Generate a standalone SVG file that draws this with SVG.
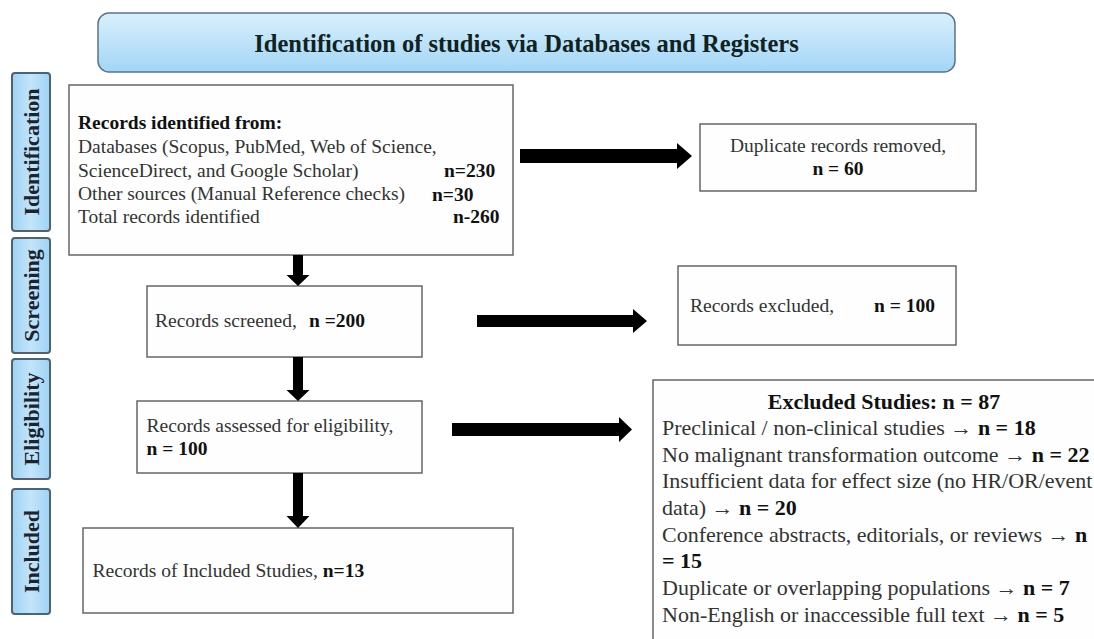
<svg xmlns="http://www.w3.org/2000/svg" width="1094" height="639" viewBox="0 0 1094 639">
<defs>
<linearGradient id="gBar" x1="0" y1="0" x2="0" y2="1">
<stop offset="0" stop-color="#d9f0fd"/>
<stop offset="1" stop-color="#a3d5f5"/>
</linearGradient>
<linearGradient id="gTab" x1="0" y1="0" x2="1" y2="0">
<stop offset="0" stop-color="#9fd2f3"/>
<stop offset="0.5" stop-color="#c2e5fb"/>
<stop offset="1" stop-color="#9fd2f3"/>
</linearGradient>
<style>
.box{fill:#fefefe;stroke:#666;stroke-width:1.5}
.tab{fill:url(#gTab);stroke:#4f6272;stroke-width:2}
.t{font-family:"Liberation Serif","Times New Roman",serif;font-size:19.5px;fill:#333}
.tl{font-family:"Liberation Serif","Times New Roman",serif;font-size:22px;fill:#333}
.b{font-weight:bold;fill:#111}
.ttl{font-family:"Liberation Serif","Times New Roman",serif;font-size:24.5px;font-weight:bold;fill:#122}
.tabt{font-family:"Liberation Serif","Times New Roman",serif;font-size:22px;font-weight:bold;fill:#1b2430}
.arr{fill:#000}
</style>
</defs>
<rect width="1094" height="639" fill="#ffffff"/>

<g id="header">
<rect x="98" y="13" width="857" height="59" rx="11" fill="url(#gBar)" stroke="#5b7486" stroke-width="1.5"/>
<text class="ttl" x="526.5" y="52" text-anchor="middle">Identification of studies via Databases and Registers</text>
</g>

<g id="tab-identification">
<rect class="tab" x="12" y="73" width="38" height="158" rx="3"/>
<text class="tabt" transform="translate(31,152) rotate(-90)" x="0" y="7.5" text-anchor="middle">Identification</text>
</g>
<g id="tab-screening">
<rect class="tab" x="12" y="238" width="38" height="115" rx="3"/>
<text class="tabt" transform="translate(31,295.5) rotate(-90)" x="0" y="7.5" text-anchor="middle">Screening</text>
</g>
<g id="tab-eligibility">
<rect class="tab" x="12" y="359" width="38" height="120" rx="3"/>
<text class="tabt" transform="translate(31,419) rotate(-90)" x="0" y="7.5" text-anchor="middle">Eligibility</text>
</g>
<g id="tab-included">
<rect class="tab" x="12" y="489" width="38" height="125" rx="3"/>
<text class="tabt" transform="translate(31,551.5) rotate(-90)" x="0" y="7.5" text-anchor="middle">Included</text>
</g>

<g id="records-identified">
<rect class="box" x="69" y="85" width="444" height="170"/>
<text class="t b" x="78" y="129">Records identified from:</text>
<text class="t" x="78" y="153">Databases (Scopus, PubMed, Web of Science,</text>
<text class="t" x="78" y="177">ScienceDirect, and Google Scholar)</text>
<text class="t b" x="444" y="177">n=230</text>
<text class="t" x="78" y="200">Other sources (Manual Reference checks)</text>
<text class="t b" x="432" y="201">n=30</text>
<text class="t" x="78" y="223">Total records identified</text>
<text class="t b" x="453" y="223">n-260</text>
</g>

<g id="duplicates-removed">
<rect class="box" x="700" y="124" width="276" height="67"/>
<text class="t" x="838" y="152" text-anchor="middle">Duplicate records removed,</text>
<text class="t b" x="838" y="175" text-anchor="middle">n = 60</text>
</g>

<g id="records-screened">
<rect class="box" x="147" y="286" width="275" height="71"/>
<text class="t" x="155" y="327">Records screened,</text>
<text class="t b" x="309" y="327">n =200</text>
</g>

<g id="records-excluded">
<rect class="box" x="678" y="266" width="278" height="79"/>
<text class="t" x="690" y="312">Records excluded,</text>
<text class="t b" x="874" y="312">n = 100</text>
</g>

<g id="records-assessed">
<rect class="box" x="137" y="401" width="285" height="72"/>
<text class="t" x="146.5" y="432">Records assessed for eligibility,</text>
<text class="t b" x="146.5" y="455">n = 100</text>
</g>

<g id="records-included">
<rect class="box" x="83" y="528" width="430" height="85"/>
<text class="t" x="92.5" y="577">Records of Included Studies, <tspan class="b">n=13</tspan></text>
</g>

<g id="excluded-studies">
<rect class="box" x="653" y="380" width="460" height="280"/>
<text class="tl b" x="884" y="409" text-anchor="middle">Excluded Studies: n = 87</text>
<text class="tl" x="662" y="435">Preclinical / non-clinical studies → <tspan class="b">n = 18</tspan></text>
<text class="tl" x="662" y="462">No malignant transformation outcome → <tspan class="b">n = 22</tspan></text>
<text class="tl" x="662" y="488">Insufficient data for effect size (no HR/OR/event</text>
<text class="tl" x="662" y="515">data) → <tspan class="b">n = 20</tspan></text>
<text class="tl" x="662" y="542">Conference abstracts, editorials, or reviews → <tspan class="b">n</tspan></text>
<text class="tl b" x="662" y="568">= 15</text>
<text class="tl" x="662" y="595">Duplicate or overlapping populations → <tspan class="b">n = 7</tspan></text>
<text class="tl" x="662" y="622">Non-English or inaccessible full text → <tspan class="b">n = 5</tspan></text>
</g>

<g id="connectors">
<path class="arr" d="M520,149 H677 V143 L692,156 L677,169 V163 H520 Z"/>
<path class="arr" d="M477,315 H633 V309 L647,321 L633,333 V327 H477 Z"/>
<path class="arr" d="M452,423 H619 V417 L632,429.5 L619,442 V436 H452 Z"/>
<path class="arr" d="M293,255 V275 H286.5 L298,286 L309.5,275 H303 V255 Z"/>
<path class="arr" d="M293,357 V390 H286.5 L298,401 L309.5,390 H303 V357 Z"/>
<path class="arr" d="M293,473 V516 H286.5 L298,528 L309.5,516 H303 V473 Z"/>
</g>
</svg>
